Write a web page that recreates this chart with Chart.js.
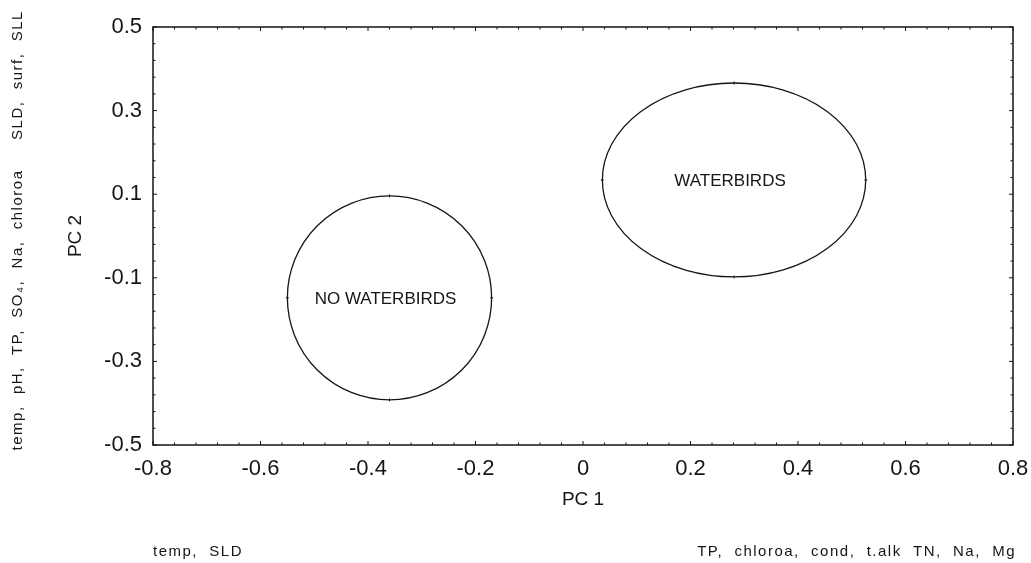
<!DOCTYPE html>
<html>
<head>
<meta charset="utf-8">
<script src="https://cdn.jsdelivr.net/npm/chart.js@4.4.0/dist/chart.umd.min.js"></script>
<style>
  html, body { margin: 0; padding: 0; background: #fff; }
  #wrap { width: 1031px; height: 563px; position: relative; }
</style>
</head>
<body>
<div id="wrap"><canvas id="pcaChart"></canvas></div>
<script>
// групи та їх еліпси (центр і розкид у одиницях PC)
const groupNames = ['NO WATERBIRDS', 'WATERBIRDS'];
const centerPC1 = [-0.36, 0.281];
const centerPC2 = [-0.148, 0.134];
const spreadPC1 = [0.19, 0.245];
const spreadPC2 = [0.244, 0.232];

const xTickLabels = ['-0.8', '-0.6', '-0.4', '-0.2', '0', '0.2', '0.4', '0.6', '0.8'];
const yTickLabels = ['-0.5', '-0.3', '-0.1', '0.1', '0.3', '0.5'];

const leftNotes = ['temp,  pH,  TP,  SO\u2084,  Na,  chloroa', 'SLD,  surf,  SLL'];
const bottomNotes = ['temp,  SLD', 'TP,  chloroa,  cond,  t.alk  TN,  Na,  Mg'];

const INK = '#151515';
const FONT = "'Liberation Sans', Arial, sans-serif";

function stepTicks(min, max, step) {
    const out = [];
    const n = Math.round((max - min) / step);
    for (let i = 0; i <= n; i++) out.push({ value: +(min + i * step).toFixed(4) });
    return out;
}

const framePlugin = {
    id: 'framePlugin',
    beforeDraw(chart) {
        chart.ctx.letterSpacing = '0px';
    },
    afterDraw(chart) {
        const ctx = chart.ctx;
        const a = chart.chartArea;
        const xs = chart.scales.x;
        const ys = chart.scales.y;

        ctx.save();
        ctx.letterSpacing = '0px';
        ctx.strokeStyle = INK;
        ctx.lineWidth = 1.5;
        ctx.strokeRect(a.left, a.top, a.right - a.left, a.bottom - a.top);

        // внутрішні засічки на всіх чотирьох сторонах
        ctx.lineWidth = 1;
        xs.ticks.forEach((t, i) => {
            const px = xs.getPixelForValue(t.value);
            const len = i % 5 === 0 ? 4 : 2.5;
            ctx.beginPath();
            ctx.moveTo(px, a.bottom); ctx.lineTo(px, a.bottom - len);
            ctx.moveTo(px, a.top); ctx.lineTo(px, a.top + len);
            ctx.stroke();
        });
        ys.ticks.forEach((t, i) => {
            const py = ys.getPixelForValue(t.value);
            const len = i % 5 === 0 ? 4 : 2.5;
            ctx.beginPath();
            ctx.moveTo(a.left, py); ctx.lineTo(a.left + len, py);
            ctx.moveTo(a.right, py); ctx.lineTo(a.right - len, py);
            ctx.stroke();
        });

        // еліпси груп
        groupNames.forEach((name, i) => {
            const cx = xs.getPixelForValue(centerPC1[i]);
            const cy = ys.getPixelForValue(centerPC2[i]);
            const rx = Math.abs(xs.getPixelForValue(centerPC1[i] + spreadPC1[i]) - cx);
            const ry = Math.abs(ys.getPixelForValue(centerPC2[i] + spreadPC2[i]) - cy);
            ctx.lineWidth = 1.3;
            ctx.beginPath();
            ctx.ellipse(cx, cy, rx, ry, 0, 0, Math.PI * 2);
            ctx.stroke();

            ctx.lineWidth = 1;
            ctx.beginPath();
            ctx.moveTo(cx - rx - 1.5, cy); ctx.lineTo(cx - rx + 1.5, cy);
            ctx.moveTo(cx + rx - 1.5, cy); ctx.lineTo(cx + rx + 1.5, cy);
            ctx.moveTo(cx, cy - ry - 1.5); ctx.lineTo(cx, cy - ry + 1.5);
            ctx.moveTo(cx, cy + ry - 1.5); ctx.lineTo(cx, cy + ry + 1.5);
            ctx.stroke();

            ctx.fillStyle = INK;
            ctx.font = '17px ' + FONT;
            ctx.textAlign = 'center';
            ctx.textBaseline = 'middle';
            ctx.fillText(name, cx - 4, cy + 1);
        });

        // підписи змінних біля осей
        ctx.fillStyle = INK;
        ctx.font = '15px ' + FONT;
        ctx.letterSpacing = '1.5px';
        ctx.textBaseline = 'middle';
        ctx.save();
        ctx.translate(18, 310);
        ctx.rotate(-Math.PI / 2);
        ctx.textAlign = 'center';
        ctx.fillText(leftNotes[0], 0, 0);
        ctx.restore();
        ctx.save();
        ctx.translate(18, 75);
        ctx.rotate(-Math.PI / 2);
        ctx.textAlign = 'center';
        ctx.fillText(leftNotes[1], 0, 0);
        ctx.restore();

        ctx.textAlign = 'left';
        ctx.fillText(bottomNotes[0], 153, 552);
        ctx.textAlign = 'right';
        ctx.fillText(bottomNotes[1], 1016, 552);
        ctx.letterSpacing = '0px';
        ctx.restore();
    }
};

const ctx = document.getElementById('pcaChart').getContext('2d');
new Chart(ctx, {
    type: 'scatter',
    data: {
        datasets: [{
            label: 'group centres',
            data: groupNames.map((n, i) => ({ x: centerPC1[i], y: centerPC2[i] })),
            pointRadius: 0,
            showLine: false
        }]
    },
    options: {
        responsive: true,
        maintainAspectRatio: false,
        animation: false,
        events: [],
        layout: { padding: { left: 62, right: 18, top: 27, bottom: 48 } },
        plugins: {
            legend: { display: false },
            tooltip: { enabled: false }
        },
        scales: {
            x: {
                type: 'linear',
                min: -0.8,
                max: 0.8,
                afterBuildTicks(s) { s.ticks = stepTicks(-0.8, 0.8, 0.04); },
                afterFit(s) {
                    s.height = 70;
                    s.paddingLeft = 0;
                    s.paddingRight = 0;
                },
                ticks: {
                    autoSkip: false,
                    maxRotation: 0,
                    padding: 11,
                    color: INK,
                    font: { family: FONT, size: 22 },
                    callback: (v, i) => (i % 5 === 0 ? xTickLabels[i / 5] : '')
                },
                grid: { display: false, drawTicks: false },
                border: { display: false },
                title: {
                    display: true,
                    text: 'PC 1',
                    color: INK,
                    font: { family: FONT, size: 19 },
                    padding: { top: 0, bottom: 4 }
                }
            },
            y: {
                type: 'linear',
                min: -0.5,
                max: 0.5,
                afterBuildTicks(s) { s.ticks = stepTicks(-0.5, 0.5, 0.04); },
                afterFit(s) {
                    s.width = 91;
                    s.paddingTop = 0;
                    s.paddingBottom = 0;
                },
                ticks: {
                    autoSkip: false,
                    padding: 11,
                    color: INK,
                    font: { family: FONT, size: 22 },
                    callback: (v, i) => (i % 5 === 0 ? yTickLabels[i / 5] : '')
                },
                grid: { display: false, drawTicks: false },
                border: { display: false },
                title: {
                    display: true,
                    text: 'PC 2',
                    color: INK,
                    font: { family: FONT, size: 19 },
                    padding: { top: 2, bottom: 0 }
                }
            }
        }
    },
    plugins: [framePlugin]
});
</script>
</body>
</html>
